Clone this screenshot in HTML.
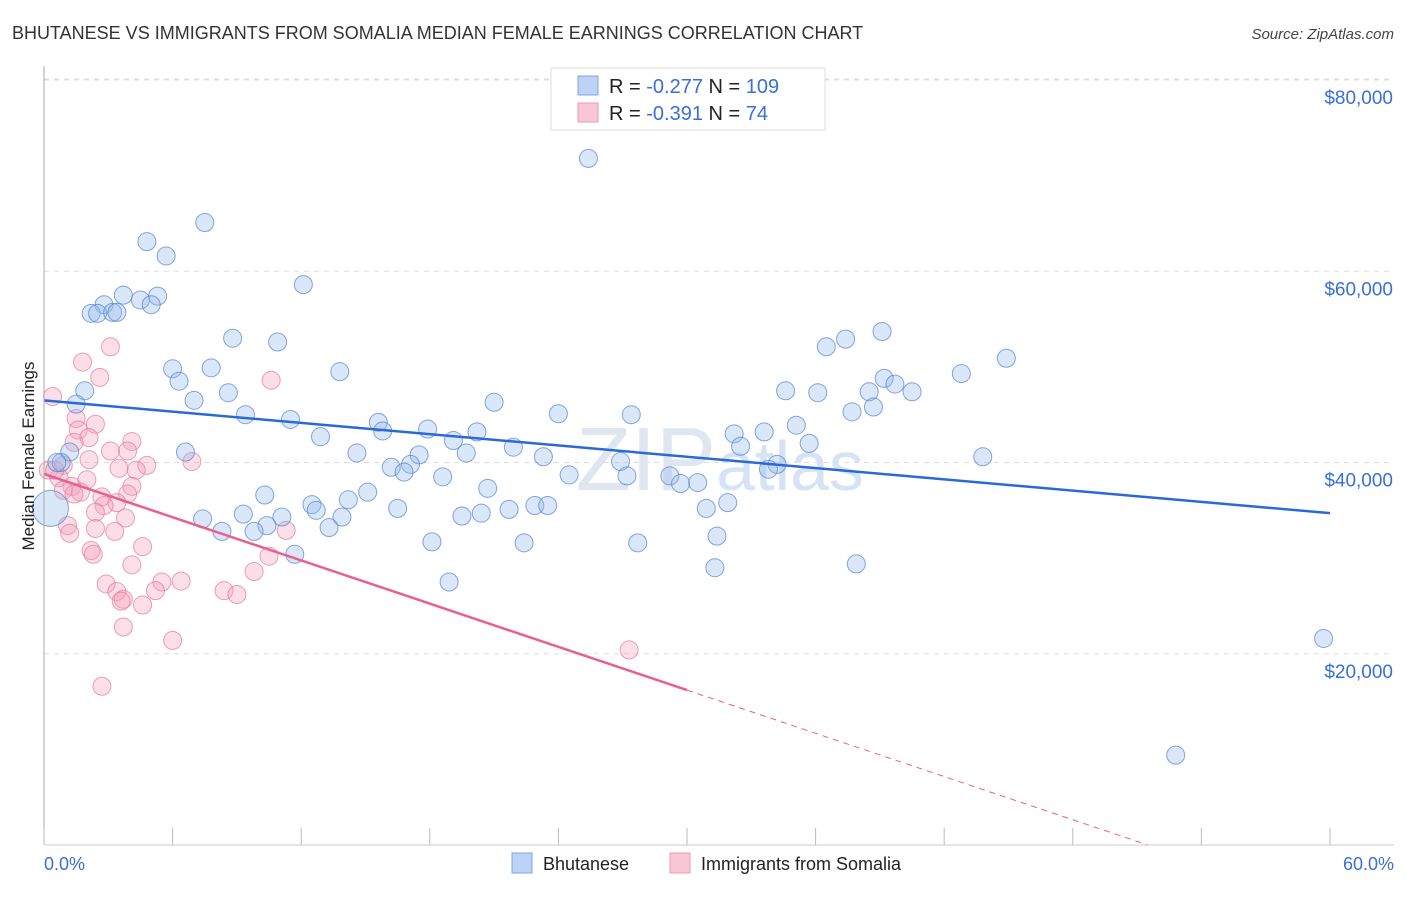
<!DOCTYPE html>
<html><head><meta charset="utf-8"><style>
body{margin:0;background:#fff;font-family:"Liberation Sans",sans-serif;}
svg text{font-family:"Liberation Sans",sans-serif;}
</style></head><body>
<svg id="chart" width="1406" height="892" viewBox="0 0 1406 892" xmlns="http://www.w3.org/2000/svg">
<text x="12" y="39" font-size="18" fill="#333">BHUTANESE VS IMMIGRANTS FROM SOMALIA MEDIAN FEMALE EARNINGS CORRELATION CHART</text>
<text x="1394" y="39" font-size="15" fill="#444" text-anchor="end" font-style="italic">Source: ZipAtlas.com</text>
<g id="grid"></g>
<text x="720" y="490" font-size="90" fill="#dfe6f0" text-anchor="middle" font-family="Liberation Serif">ZIP<tspan font-family="Liberation Sans" font-size="70" fill="#d6e3f5">atlas</tspan></text>
<g id="pts"></g>
<g id="trends"></g>
<g id="axes"></g>
<text transform="translate(34,456) rotate(-90)" font-size="17" fill="#222" text-anchor="middle">Median Female Earnings</text>
<g>
<rect x="551" y="68" width="274" height="62" fill="#fff" stroke="#ddd"/>
<rect x="578" y="76" width="20" height="19" fill="#bcd3f5" stroke="#7fa6e0"/>
<rect x="578" y="103" width="20" height="19" fill="#f9c6d5" stroke="#ec9ab3"/>
<text x="609" y="93" font-size="20" fill="#222">R = <tspan fill="#3a6fd8">-0.277</tspan>   N = <tspan fill="#3a6fd8">109</tspan></text>
<text x="609" y="120" font-size="20" fill="#222">R = <tspan fill="#3a6fd8"> -0.391</tspan>   N = <tspan fill="#3a6fd8">  74</tspan></text>
</g>
<g>
<rect x="512" y="853" width="20" height="20" fill="#bcd3f5" stroke="#7fa6e0"/>
<text x="543" y="870" font-size="18" fill="#222">Bhutanese</text>
<rect x="670" y="853" width="20" height="20" fill="#f9c6d5" stroke="#ec9ab3"/>
<text x="701" y="870" font-size="18" fill="#222">Immigrants from Somalia</text>
</g>
</svg>
<script>
const yTicks=[20000,40000,60000,80000];
const yTickLabels=["$20,000","$40,000","$60,000","$80,000"];
const xTickLabels=["0.0%","60.0%"];
const blueX=[25.4,7.5,4.8,5.7,12.1,3.7,5.3,4.5,2.8,5.0,2.2,2.5,3.2,3.4,8.8,10.9,39.1,37.4,36.5,44.9,42.8,13.8,6.0,7.8,6.3,39.2,39.7,40.5,34.6,36.1,38.5,8.6,1.9,7.0,1.5,21.0,38.7,37.7,24.0,27.4,9.4,11.5,15.6,35.1,15.8,17.9,20.2,32.2,33.6,12.9,19.1,35.7,32.5,21.9,6.6,14.6,19.7,17.5,23.3,43.8,1.2,26.9,0.8,34.2,17.1,16.2,33.8,16.8,24.5,27.2,29.2,18.6,29.7,30.5,20.7,15.1,10.3,31.9,14.2,12.5,22.9,23.5,16.5,21.7,30.9,12.7,9.3,20.4,11.1,13.9,19.5,7.4,10.4,13.3,9.8,8.3,31.4,18.1,22.4,27.7,11.7,37.9,31.3,18.9,59.7,52.8,0.3,0.6];
const blueY=[71.8,65.1,63.1,61.6,58.6,57.5,57.4,57.0,56.5,56.5,55.6,55.6,55.7,55.7,53.0,52.6,53.7,52.9,52.1,50.9,49.3,49.5,49.8,49.9,48.5,48.8,48.2,47.4,47.5,47.3,47.4,47.3,47.5,46.5,46.1,46.3,45.8,45.3,45.1,45.0,45.0,44.5,44.2,43.9,43.3,43.5,43.2,43.0,43.2,42.7,42.3,42.0,41.7,41.6,41.1,41.0,41.0,40.8,40.6,40.6,41.1,40.1,40.0,39.8,39.8,39.5,39.3,39.0,38.7,38.6,38.6,38.5,37.8,37.9,37.3,36.9,36.6,35.8,36.1,35.6,35.5,35.5,35.2,35.1,35.2,35.0,34.6,34.7,34.3,34.3,34.4,34.1,33.4,33.2,32.8,32.8,32.3,31.7,31.6,31.6,30.4,29.4,29.0,27.5,21.6,9.4,35.2,40.0];
const pinkX=[1.8,3.1,10.6,2.6,0.4,1.5,2.4,1.6,2.1,4.1,1.4,3.1,3.9,2.1,6.9,4.8,0.9,3.5,4.3,0.2,0.7,2.0,1.3,4.1,0.9,1.7,2.7,3.9,1.4,3.4,2.8,2.4,3.8,1.1,2.4,3.3,1.2,11.3,4.6,2.2,2.3,10.5,4.1,9.8,2.9,5.5,6.4,3.4,8.4,9.0,3.7,3.6,5.2,4.6,3.7,6.0,27.3,2.7,0.5];
const pinkY=[50.5,52.1,48.6,48.9,46.9,44.6,44.0,43.4,42.6,42.2,42.1,41.2,41.2,40.3,40.1,39.7,39.7,39.4,39.2,39.2,38.4,38.2,37.5,37.5,37.1,36.9,36.4,36.7,36.7,35.8,35.5,34.8,34.2,33.4,33.1,32.8,32.6,32.9,31.2,30.8,30.4,30.2,29.3,28.6,27.3,27.5,27.6,26.5,26.6,26.2,25.7,25.5,26.6,25.1,22.8,21.4,20.4,16.6,39.2];
const blueTrendX=[0,60];
const blueTrendY=[46.5,34.7];
const pinkTrendX=[0,30];
const pinkTrendY=[38.8,16.2];
const NS="http://www.w3.org/2000/svg";
const L=44,R=1330,T=79,B=845;
const xs=v=>L+(v/60)*(R-L);
const ys=v=>B-(v/80000)*(B-80);
function mk(t,a,p){const e=document.createElementNS(NS,t);for(const k in a)e.setAttribute(k,a[k]);p.appendChild(e);return e;}
const grid=document.getElementById('grid'),axes=document.getElementById('axes');
mk('line',{x1:L,x2:1394,y1:T,y2:T,stroke:'#ddd','stroke-dasharray':'5,5'},grid);
yTicks.forEach((v,i)=>{
 const l=mk('line',{x1:L,x2:1394,y1:ys(v),y2:ys(v),stroke:'#ddd','stroke-dasharray':'5,5'},grid);
 
 
 const t=mk('text',{x:1393,y:ys(v)+24,'font-size':19,fill:'#3a6fd8','text-anchor':'end'},axes);
 t.textContent=yTickLabels[i];
 
 
});
mk('line',{x1:L,x2:L,y1:66,y2:B,stroke:'#aaa'},axes);
mk('line',{x1:L,x2:1394,y1:B,y2:B,stroke:'#ccc'},axes);
for(let i=0;i<=10;i++){const x=xs(i*6);const tk=mk('line',{x1:x,x2:x,y1:828,y2:B,stroke:'#bbb'},axes);
 
 }
const x0=mk('text',{x:44,y:870,'font-size':18,fill:'#3a6fd8'},axes);x0.textContent=xTickLabels[0];


const x1=mk('text',{x:1394,y:870,'font-size':18,fill:'#3a6fd8','text-anchor':'end'},axes);x1.textContent=xTickLabels[1];


const pts=document.getElementById('pts');
pinkX.forEach((x,i)=>{const c=mk('circle',{cx:xs(x),cy:ys(pinkY[i]*1000),r:9,fill:'rgba(244,160,186,0.35)',stroke:'rgba(230,120,155,0.7)','stroke-width':1},pts);
 
 });
blueX.forEach((x,i)=>{const big=i===blueX.length-2;const c=mk('circle',{cx:xs(x),cy:ys(blueY[i]*1000),r:big?18:9,fill:'rgba(150,185,235,0.35)',stroke:'rgba(80,130,210,0.7)','stroke-width':1},pts);
 
 });
const tr=document.getElementById('trends');
const bl=mk('line',{x1:xs(blueTrendX[0]),y1:ys(blueTrendY[0]*1000),x2:xs(blueTrendX[1]),y2:ys(blueTrendY[1]*1000),stroke:'#2a6ad6','stroke-width':2.5},tr);


const pl=mk('line',{x1:xs(pinkTrendX[0]),y1:ys(pinkTrendY[0]*1000),x2:xs(pinkTrendX[1]),y2:ys(pinkTrendY[1]*1000),stroke:'#e8608e','stroke-width':2.5},tr);


const slope=(pinkTrendY[1]-pinkTrendY[0])/(pinkTrendX[1]-pinkTrendX[0]);
const xz=pinkTrendX[0]-pinkTrendY[0]/slope;
const pd=mk('line',{x1:xs(pinkTrendX[1]),y1:ys(pinkTrendY[1]*1000),x2:xs(xz),y2:ys(0),stroke:'#e8608e','stroke-width':1,'stroke-dasharray':'6,5'},tr);


</script>
</body></html>
